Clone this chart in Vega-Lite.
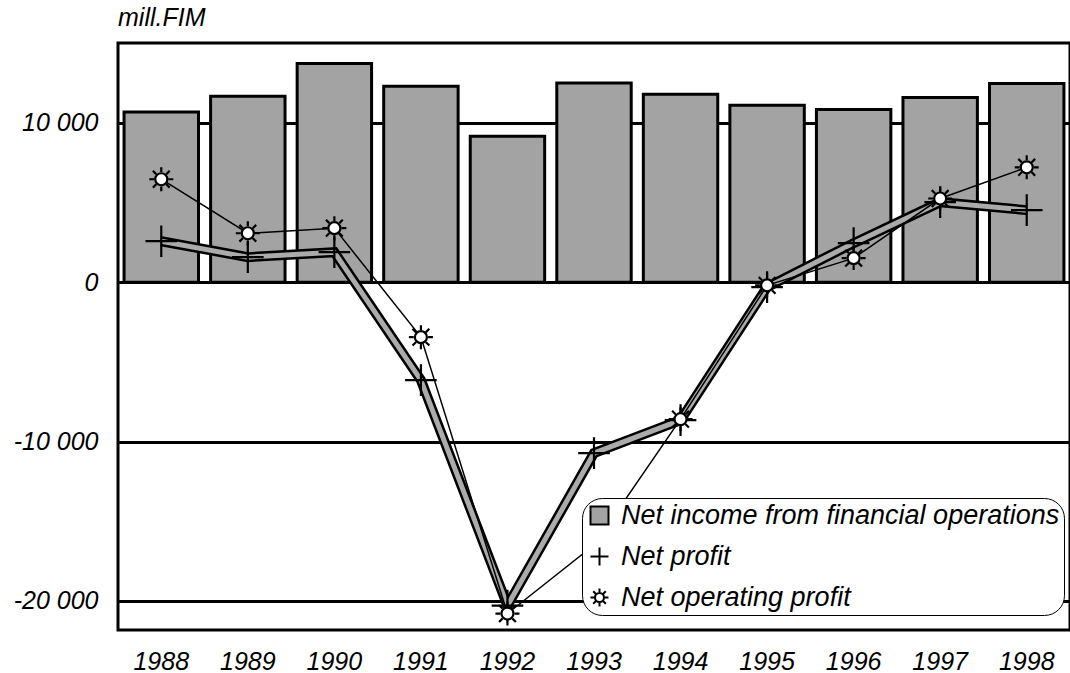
{
  "$schema": "https://vega.github.io/schema/vega-lite/v6.json",
  "width": 952,
  "height": 587,
  "autosize": {"type": "none"},
  "padding": {"left": 118, "top": 43, "right": 0, "bottom": 43},
  "background": "white",
  "title": {"text": "mill.FIM", "anchor": "start", "frame": "group", "font": "Liberation Sans", "fontSize": 25, "fontStyle": "italic", "fontWeight": "normal", "color": "black", "offset": 12},
  "config": {
    "view": {"stroke": "black", "strokeWidth": 3},
    "font": "Liberation Sans",
    "legend": {"symbolStrokeColor": "black", "symbolStrokeWidth": 2}
  },
  "data": {"values": [
    {"year": "1988", "series": "Net income from financial operations", "value": 10680},
    {"year": "1989", "series": "Net income from financial operations", "value": 11670},
    {"year": "1990", "series": "Net income from financial operations", "value": 13720},
    {"year": "1991", "series": "Net income from financial operations", "value": 12300},
    {"year": "1992", "series": "Net income from financial operations", "value": 9160},
    {"year": "1993", "series": "Net income from financial operations", "value": 12500},
    {"year": "1994", "series": "Net income from financial operations", "value": 11790},
    {"year": "1995", "series": "Net income from financial operations", "value": 11100},
    {"year": "1996", "series": "Net income from financial operations", "value": 10830},
    {"year": "1997", "series": "Net income from financial operations", "value": 11590},
    {"year": "1998", "series": "Net income from financial operations", "value": 12470},
    {"year": "1988", "series": "Net profit", "value": 2570},
    {"year": "1989", "series": "Net profit", "value": 1570},
    {"year": "1990", "series": "Net profit", "value": 1880},
    {"year": "1991", "series": "Net profit", "value": -6150},
    {"year": "1992", "series": "Net profit", "value": -20300},
    {"year": "1993", "series": "Net profit", "value": -10730},
    {"year": "1994", "series": "Net profit", "value": -8660},
    {"year": "1995", "series": "Net profit", "value": -310},
    {"year": "1996", "series": "Net profit", "value": 2450},
    {"year": "1997", "series": "Net profit", "value": 5020},
    {"year": "1998", "series": "Net profit", "value": 4520},
    {"year": "1988", "series": "Net operating profit", "value": 6460},
    {"year": "1989", "series": "Net operating profit", "value": 3070},
    {"year": "1990", "series": "Net operating profit", "value": 3390},
    {"year": "1991", "series": "Net operating profit", "value": -3450},
    {"year": "1992", "series": "Net operating profit", "value": -20800},
    {"year": "1993", "series": "Net operating profit", "value": -16500},
    {"year": "1994", "series": "Net operating profit", "value": -8600},
    {"year": "1995", "series": "Net operating profit", "value": -200},
    {"year": "1996", "series": "Net operating profit", "value": 1510},
    {"year": "1997", "series": "Net operating profit", "value": 5250},
    {"year": "1998", "series": "Net operating profit", "value": 7210}
  ]},
  "encoding": {
    "x": {"field": "year", "type": "ordinal",
      "scale": {"paddingInner": 0.14, "paddingOuter": 0.07},
      "axis": {"title": null, "labelAngle": 0, "domain": false, "ticks": false, "labelFont": "Liberation Sans", "labelFontSize": 25, "labelFontStyle": "italic", "labelColor": "black", "labelPadding": 19}},
    "y": {"field": "value", "type": "quantitative",
      "scale": {"domain": [-21830, 15010], "nice": false, "zero": false},
      "axis": {"title": null, "values": [-20000, -10000, 0, 10000], "domain": false, "ticks": false, "grid": true, "gridColor": "black", "gridWidth": 3, "gridOpacity": 1,
        "labelExpr": "datum.value == 10000 ? '10 000' : datum.value == -10000 ? '-10 000' : datum.value == -20000 ? '-20 000' : '0'",
        "labelFont": "Liberation Sans", "labelFontSize": 25, "labelFontStyle": "italic", "labelColor": "black", "labelPadding": 20}}
  },
  "layer": [
    {
      "transform": [{"filter": "datum.series == 'Net income from financial operations'"}],
      "mark": {"type": "bar", "stroke": "black", "strokeWidth": 3},
      "encoding": {
        "color": {"field": "series", "type": "nominal",
          "scale": {"domain": ["Net income from financial operations", "Net profit", "Net operating profit"], "range": ["#a3a3a3", "#a3a3a3", "white"]},
          "legend": {"title": null, "orient": "none", "legendX": 464, "legendY": 455,
            "labelFont": "Liberation Sans", "labelFontSize": 27, "labelFontStyle": "italic", "labelColor": "black", "labelLimit": 700, "labelOffset": 8,
            "labelExpr": "datum.label + '   '",
            "symbolSize": 324, "rowPadding": 13, "padding": 4, "cornerRadius": 20, "strokeColor": "black", "fillColor": "white",
            "symbolStrokeColor": "black", "symbolStrokeWidth": 2,
            "encode": {"legend": {"strokeWidth": {"value": 2.5}}}}
        }
      }
    },
    {
      "transform": [{"filter": "datum.series == 'Net profit'"}],
      "mark": {"type": "line", "color": "black", "strokeWidth": 10, "strokeJoin": "miter"}
    },
    {
      "transform": [{"filter": "datum.series == 'Net profit'"}],
      "mark": {"type": "line", "color": "#ababab", "strokeWidth": 5, "strokeJoin": "miter"}
    },
    {
      "transform": [{"filter": "datum.series == 'Net operating profit'"}],
      "mark": {"type": "line", "color": "black", "strokeWidth": 1.5}
    },
    {
      "transform": [{"filter": "datum.series != 'Net income from financial operations'"}],
      "mark": {"type": "point", "filled": true, "stroke": "black", "strokeWidth": 2.2, "opacity": 1},
      "encoding": {
        "color": {"field": "series", "type": "nominal",
          "legend": {"title": null, "orient": "none", "legendX": 464, "legendY": 455,
            "labelFont": "Liberation Sans", "labelFontSize": 27, "labelFontStyle": "italic", "labelColor": "black", "labelLimit": 700, "labelOffset": 8,
            "labelExpr": "datum.label + '   '",
            "symbolSize": 324, "rowPadding": 13, "padding": 4, "cornerRadius": 20, "strokeColor": "black", "fillColor": "white",
            "symbolStrokeColor": "black", "symbolStrokeWidth": 2,
            "encode": {"legend": {"strokeWidth": {"value": 2.5}}}}},
        "shape": {"field": "series", "type": "nominal",
          "scale": {"domain": ["Net income from financial operations", "Net profit", "Net operating profit"],
            "range": ["square", "M-1,0H1M0,-1V1", "M0.5,0A0.5,0.5,0,1,1,-0.5,0A0.5,0.5,0,1,1,0.5,0Z M0,-0.6V-1 M0,0.6V1 M0.6,0H1 M-0.6,0H-1 M0.42,0.42L0.7,0.7 M-0.42,-0.42L-0.7,-0.7 M0.42,-0.42L0.7,-0.7 M-0.42,0.42L-0.7,0.7"]},
          "legend": {"title": null, "orient": "none", "legendX": 464, "legendY": 455,
            "labelFont": "Liberation Sans", "labelFontSize": 27, "labelFontStyle": "italic", "labelColor": "black", "labelLimit": 700, "labelOffset": 8,
            "labelExpr": "datum.label + '   '",
            "symbolSize": 324, "rowPadding": 13, "padding": 4, "cornerRadius": 20, "strokeColor": "black", "fillColor": "white",
            "symbolStrokeColor": "black", "symbolStrokeWidth": 2,
            "encode": {"legend": {"strokeWidth": {"value": 2.5}}}}},
        "size": {"field": "series", "type": "nominal",
          "scale": {"domain": ["Net profit", "Net operating profit"], "range": [1000, 576]},
          "legend": null}
      }
    }
  ]
}
